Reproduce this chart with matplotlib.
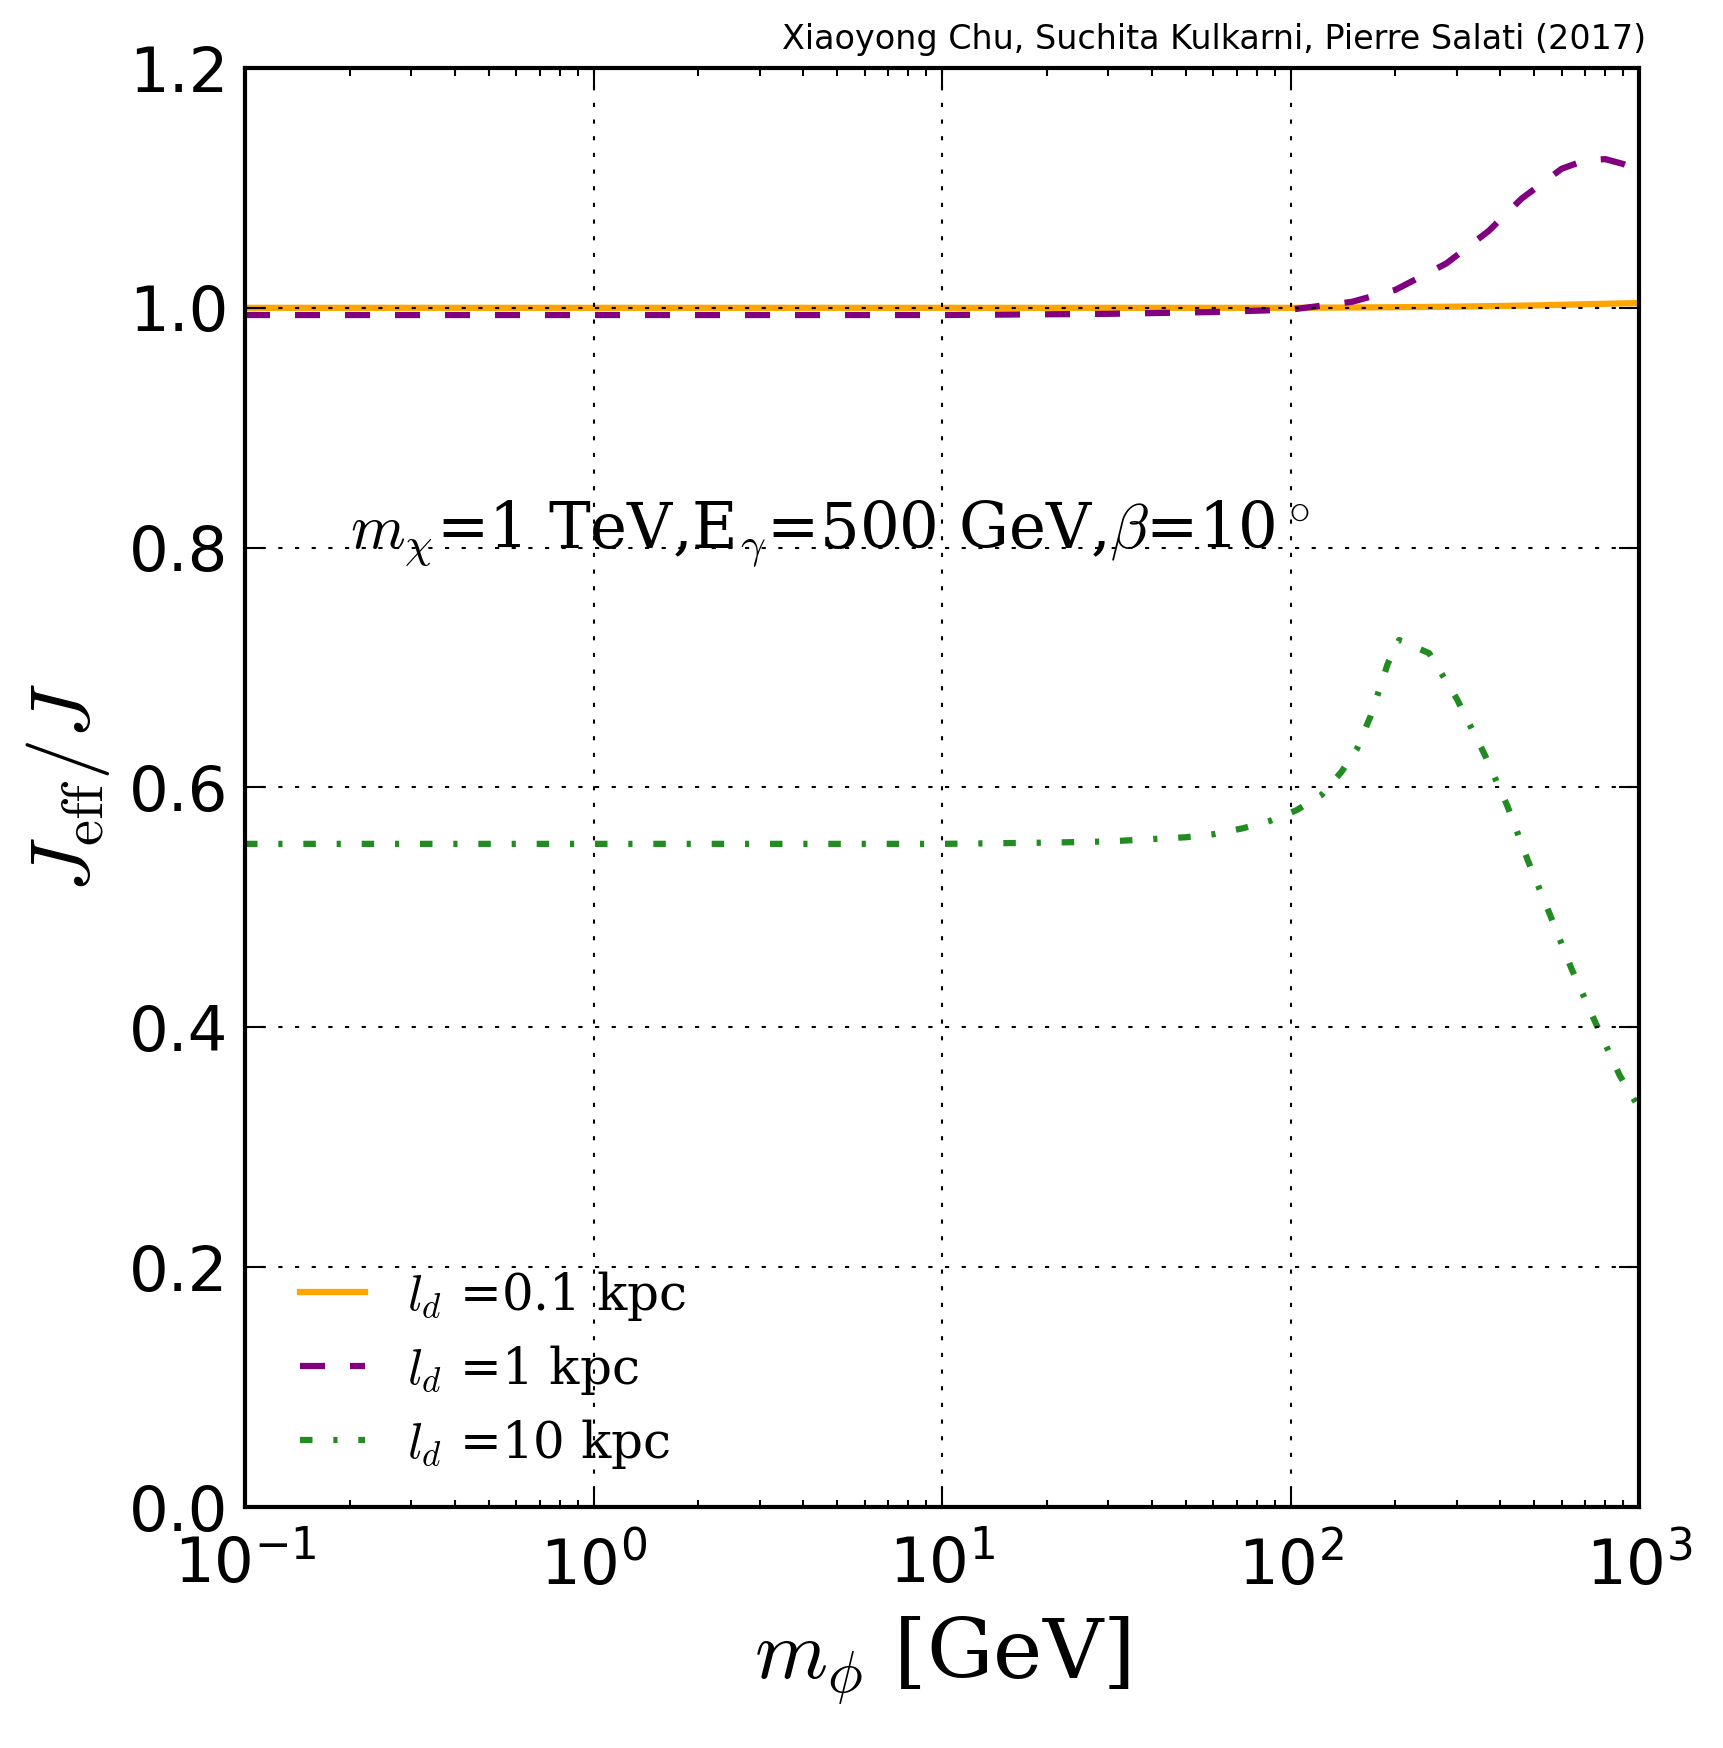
import numpy as np
import matplotlib
matplotlib.use("Agg")
import matplotlib.pyplot as plt
from matplotlib.font_manager import FontProperties

# data
x_orange = [0.1, 1, 10, 100, 200, 300, 500, 700, 1000]
y_orange = [1.0, 1.0, 1.0, 1.0, 1.0005, 1.001, 1.002, 1.003, 1.004]

x_purple = [0.1, 1, 10, 30, 60, 100, 150, 200, 280, 370, 460, 600, 700, 800, 900, 1000]
y_purple = [0.994, 0.994, 0.994, 0.995, 0.9965, 0.9985, 1.005, 1.015, 1.037, 1.064,
            1.091, 1.116, 1.123, 1.124, 1.12, 1.115]

x_green = [0.1, 1, 10, 20, 30, 40, 50, 60, 73, 87, 104, 123, 140, 155, 170, 190, 205,
           250, 300, 360, 420, 480, 550, 640, 750, 880, 1000]
y_green = [0.553, 0.553, 0.553, 0.554, 0.555, 0.557, 0.5585, 0.561, 0.566, 0.572, 0.581,
           0.594, 0.613, 0.632, 0.66, 0.703, 0.723, 0.712, 0.674, 0.628, 0.584, 0.539,
           0.497, 0.449, 0.404, 0.360, 0.333]

labels = [r'$l_d$ =0.1 kpc', r'$l_d$ =1 kpc', r'$l_d$ =10 kpc']

plt.rcParams['lines.scale_dashes'] = False
plt.rcParams['lines.dashed_pattern'] = [6, 6]
plt.rcParams['lines.dashdot_pattern'] = [3, 5, 1, 5]
plt.rcParams['lines.dotted_pattern'] = [1, 3]
plt.rcParams['xtick.direction'] = 'in'
plt.rcParams['ytick.direction'] = 'in'
plt.rcParams['xtick.top'] = True
plt.rcParams['ytick.right'] = True
plt.rcParams['xtick.major.size'] = 4.8
plt.rcParams['ytick.major.size'] = 4.8
plt.rcParams['xtick.minor.size'] = 1.8
plt.rcParams['ytick.minor.size'] = 1.8
plt.rcParams['xtick.major.width'] = 0.5
plt.rcParams['ytick.major.width'] = 0.5
plt.rcParams['xtick.minor.width'] = 0.5
plt.rcParams['ytick.minor.width'] = 0.5
plt.rcParams['xtick.major.pad'] = 6.5
plt.rcParams['ytick.major.pad'] = 4
plt.rcParams['axes.linewidth'] = 1.0
plt.rcParams['xtick.labelsize'] = 15
plt.rcParams['ytick.labelsize'] = 15

fig = plt.figure(figsize=(1723 / 300, 1748 / 300), dpi=300)
ax = fig.add_axes([245 / 1723, 1 - 1507 / 1748, (1639 - 245) / 1723, (1507 - 68) / 1748])

ax.plot(x_orange, y_orange, color='orange', lw=1.5, ls='-', label=labels[0])
ax.plot(x_purple, y_purple, color='purple', lw=1.5, ls='--', label=labels[1])
ax.plot(x_green, y_green, color='forestgreen', lw=1.5, ls='-.', label=labels[2])

ax.set_xscale('log')
ax.set_xlim(0.1, 1000)
ax.set_ylim(0, 1.2)
ax.set_yticks(np.arange(0, 1.21, 0.2))
ax.set_axisbelow(False)
ax.grid(True, color='k', linestyle=':', linewidth=0.5)

ax.set_xlabel(r'$m_\phi$ [GeV]', fontsize=20, family='DejaVu Serif', math_fontfamily='cm')
ax.set_ylabel(r'$J_{\rm eff}/J$', fontsize=20, family='DejaVu Serif', math_fontfamily='cm')

ax.text(0.2, 0.8, r'$m_\chi$=1 TeV,E$_\gamma$=500 GeV,$\beta$=10$^\circ$',
        fontsize=15, family='DejaVu Serif', math_fontfamily='cm')

ax.text(1.005, 1.008, 'Xiaoyong Chu, Suchita Kulkarni, Pierre Salati (2017)',
        transform=ax.transAxes, ha='right', va='bottom', fontsize=8)

leg_font = FontProperties(family='DejaVu Serif', size=12, math_fontfamily='cm')
ax.legend(loc='lower left', bbox_to_anchor=(0.007, -0.006), frameon=False, prop=leg_font,
          handlelength=1.3, handletextpad=0.85, labelspacing=0.4, borderpad=0.4,
          borderaxespad=0.5)

fig.savefig('out.png', dpi=300)
